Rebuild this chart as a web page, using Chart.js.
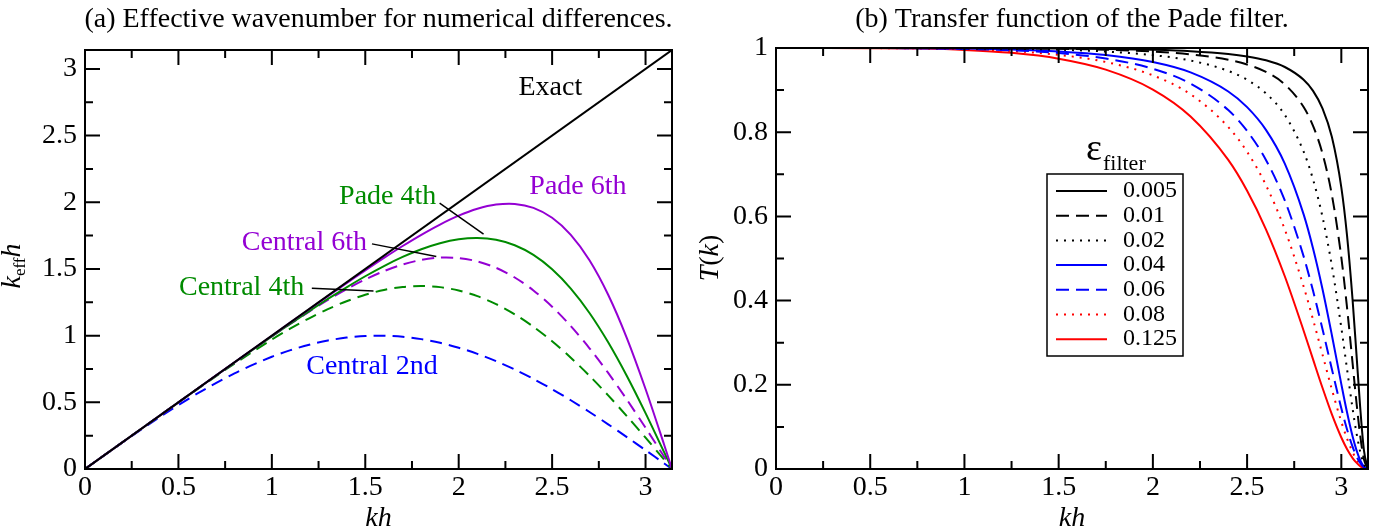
<!DOCTYPE html>
<html>
<head>
<meta charset="utf-8">
<script src="https://cdn.jsdelivr.net/npm/chart.js@4.4.1/dist/chart.umd.min.js"></script>
<style>
  html, body { margin: 0; padding: 0; background: #fff; }
  #wrap { position: relative; width: 1384px; height: 529px; }
  .pane { position: absolute; top: 0; width: 692px; height: 529px; }
</style>
</head>
<body>
<div id="wrap">
  <div class="pane" style="left:0"><canvas id="left" width="692" height="529"></canvas></div>
  <div class="pane" style="left:692px"><canvas id="right" width="692" height="529"></canvas></div>
</div>
<script>
// ------------------------------------------------------------
// (a) effective wavenumber, values at khA
// ------------------------------------------------------------
const khA = [0, 0.2, 0.4, 0.6, 0.8, 1, 1.1, 1.2, 1.3, 1.4, 1.5, 1.6, 1.7, 1.8, 1.9, 2, 2.1, 2.2, 2.3, 2.4, 2.5, 2.6, 2.7, 2.8, 2.9, 3, 3.1, 3.1416];
const central2nd = [0, 0.1987, 0.3894, 0.5646, 0.7174, 0.8415, 0.8912, 0.932, 0.9636, 0.9854, 0.9975, 0.9996, 0.9917, 0.9738, 0.9463, 0.9093, 0.8632, 0.8085, 0.7457, 0.6755, 0.5985, 0.5155, 0.4274, 0.335, 0.2392, 0.1411, 0.0416, 0];
const central4th = [0, 0.2, 0.3996, 0.5975, 0.7899, 0.9705, 1.0535, 1.1301, 1.1989, 1.258, 1.3065, 1.3425, 1.3649, 1.3722, 1.3637, 1.3385, 1.2962, 1.2366, 1.1599, 1.0667, 0.9578, 0.8346, 0.6987, 0.5519, 0.3964, 0.2347, 0.0693, 0];
const central6th = [0, 0.2, 0.3999, 0.5998, 0.7987, 0.9942, 1.089, 1.1806, 1.2678, 1.3485, 1.4213, 1.4837, 1.5333, 1.5677, 1.5847, 1.5817, 1.5568, 1.5086, 1.4359, 1.3386, 1.2167, 1.0716, 0.9053, 0.7204, 0.5203, 0.3092, 0.0914, 0];
const pade4th = [0, 0.2, 0.3999, 0.5995, 0.7981, 0.9938, 1.0897, 1.1835, 1.2749, 1.3623, 1.4452, 1.5216, 1.59, 1.6479, 1.6931, 1.7223, 1.7319, 1.7184, 1.6774, 1.605, 1.4976, 1.3529, 1.17, 0.9501, 0.6974, 0.4191, 0.1246, 0];
const pade6th = [0, 0.2, 0.4, 0.6, 0.7999, 0.9995, 1.0989, 1.1979, 1.2964, 1.3936, 1.4893, 1.5826, 1.6721, 1.7563, 1.8331, 1.8994, 1.9509, 1.9826, 1.9878, 1.9581, 1.8839, 1.756, 1.5656, 1.3068, 0.9818, 0.6, 0.1799, 0];
const exactKh = [0, 3.1416];
const exactKeff = [0, 3.1416];

// leader lines from the labels to their curves (kh, keff)
const leaderPade4 = [[1.898, 1.993], [2.133, 1.761]];
const leaderCentral6 = [[1.536, 1.688], [1.88, 1.593]];
const leaderCentral4 = [[1.214, 1.356], [1.544, 1.335]];

const ticksAx = [0, 0.5, 1, 1.5, 2, 2.5, 3];
const minorAx = [0.25, 0.75, 1.25, 1.75, 2.25, 2.75];
const ticksAy = [0, 0.5, 1, 1.5, 2, 2.5, 3];
const minorAy = [0.25, 0.75, 1.25, 1.75, 2.25, 2.75];

// ------------------------------------------------------------
// (b) transfer function of the Pade filter, read at khB
// ------------------------------------------------------------
const epsFilter = ["0.005", "0.01", "0.02", "0.04", "0.06", "0.08", "0.125"];
const khB = [0, 0.25, 0.5, 0.75, 1, 1.25, 1.5, 1.75, 2, 2.2, 2.4, 2.5, 2.6, 2.7, 2.8, 2.85, 2.9, 2.95, 3, 3.03, 3.06, 3.08, 3.1, 3.12, 3.1416];
const T0005 = [1, 1, 1, 0.9999, 0.9998, 0.9996, 0.999, 0.9979, 0.9957, 0.9924, 0.9858, 0.98, 0.9708, 0.9549, 0.9245, 0.8981, 0.8567, 0.7885, 0.6691, 0.5559, 0.4004, 0.2754, 0.1476, 0.0445, 0];
const T001 = [1, 1, 1, 0.9999, 0.9997, 0.9991, 0.998, 0.9958, 0.9915, 0.9849, 0.9721, 0.9608, 0.9432, 0.9136, 0.8597, 0.815, 0.7494, 0.6508, 0.5027, 0.385, 0.2503, 0.1597, 0.0797, 0.0228, 0];
const T002 = [1, 1, 1, 0.9998, 0.9993, 0.9982, 0.996, 0.9916, 0.9831, 0.9702, 0.9456, 0.9245, 0.8924, 0.841, 0.7538, 0.6877, 0.5992, 0.4823, 0.3357, 0.2384, 0.143, 0.0868, 0.0415, 0.0115, 0];
const T004 = [1, 1, 0.9999, 0.9996, 0.9986, 0.9964, 0.9919, 0.9833, 0.9666, 0.942, 0.8967, 0.8595, 0.8056, 0.7255, 0.6049, 0.524, 0.4277, 0.3178, 0.2017, 0.1353, 0.077, 0.0454, 0.0212, 0.0058, 0];
const T006 = [1, 1, 0.9999, 0.9994, 0.9979, 0.9946, 0.9879, 0.975, 0.9506, 0.9153, 0.8525, 0.8029, 0.7341, 0.6379, 0.505, 0.4232, 0.3325, 0.237, 0.1442, 0.0945, 0.0527, 0.0307, 0.0142, 0.0039, 0];
const T008 = [1, 1, 0.9998, 0.9991, 0.9972, 0.9927, 0.9838, 0.9668, 0.935, 0.89, 0.8123, 0.7533, 0.6742, 0.5691, 0.4334, 0.3549, 0.272, 0.1889, 0.1122, 0.0726, 0.0401, 0.0232, 0.0107, 0.0029, 0];
const T0125 = [1, 1, 0.9997, 0.9986, 0.9955, 0.9885, 0.9746, 0.9486, 0.9014, 0.8374, 0.7341, 0.6609, 0.5694, 0.4578, 0.3285, 0.2603, 0.1929, 0.1297, 0.0748, 0.0477, 0.026, 0.015, 0.0069, 0.0019, 0];

const ticksBx = [0, 0.5, 1, 1.5, 2, 2.5, 3];
const minorBx = [0.25, 0.75, 1.25, 1.75, 2.25, 2.75];
const ticksBy = [0, 0.2, 0.4, 0.6, 0.8, 1];
const minorBy = [0.1, 0.3, 0.5, 0.7, 0.9];

// ------------------------------------------------------------
// styles
// ------------------------------------------------------------
const BLACK = "#000000", BLUE = "#0000ff", RED = "#ff0000", GREEN = "#008b00", VIOLET = "#9400d3";
const SERIF = "'Liberation Serif', 'Times New Roman', serif";
const DASH = [12, 7], DOT = [2, 6];
const PI = 3.14159265;

// curve labels of panel (a): text, kh, keff, colour, alignment
const notesA = [
  ["Exact", 2.32, 2.858, BLACK, "left"],
  ["Pade 6th", 2.378, 2.115, VIOLET, "left"],
  ["Pade 4th", 1.88, 2.043, GREEN, "right"],
  ["Central 6th", 1.509, 1.698, VIOLET, "right"],
  ["Central 4th", 1.173, 1.358, GREEN, "right"],
  ["Central 2nd", 1.184, 0.767, BLUE, "left"],
];

const pts = (xs, ys) => xs.map((x, i) => ({ x, y: ys[i] }));
const pairPts = p => p.map(([x, y]) => ({ x, y }));

// smooth: "monotone" for the filter curves, bezier tension for the humped ones
function curve(data, color, dash, width, smooth) {
  const d = {
    data, borderColor: color, borderWidth: width || 2, borderDash: dash || [],
    showLine: true, pointRadius: 0, fill: false,
  };
  if (smooth === "monotone") d.cubicInterpolationMode = "monotone";
  else d.tension = smooth || 0;
  return d;
}

// axes with fixed box sizes so the plot frame lands where the figure has it
function axes(yMax, xTicks, yTicks, leftW) {
  const font = { family: SERIF, size: 28 };
  return {
    x: {
      type: "linear", min: 0, max: PI,
      afterBuildTicks: s => { s.ticks = xTicks.map(v => ({ value: v })); },
      afterFit: s => { s.height = 60; },
      grid: { display: false, drawTicks: false }, border: { display: false },
      ticks: { font, color: BLACK, padding: 2, maxRotation: 0, autoSkip: false, callback: v => String(v) },
    },
    y: {
      type: "linear", min: 0, max: yMax,
      afterBuildTicks: s => { s.ticks = yTicks.map(v => ({ value: v })); },
      afterFit: s => { s.width = leftW; },
      grid: { display: false, drawTicks: false }, border: { display: false },
      ticks: { font, color: BLACK, padding: 8, autoSkip: false, callback: v => String(v) },
    },
  };
}

// frame plus inward major/minor ticks on all four sides
function framePlugin(xMaj, xMin, yMaj, yMin) {
  return {
    id: "frame",
    afterDatasetsDraw(chart) {
      const { ctx, chartArea: a, scales: { x, y } } = chart;
      ctx.save();
      ctx.strokeStyle = BLACK;
      ctx.lineWidth = 2;
      ctx.setLineDash([]);
      ctx.strokeRect(a.left, a.top, a.right - a.left, a.bottom - a.top);
      ctx.beginPath();
      const xt = (vals, len) => vals.forEach(v => {
        const p = x.getPixelForValue(v);
        ctx.moveTo(p, a.bottom); ctx.lineTo(p, a.bottom - len);
        ctx.moveTo(p, a.top); ctx.lineTo(p, a.top + len);
      });
      const yt = (vals, len) => vals.forEach(v => {
        const p = y.getPixelForValue(v);
        ctx.moveTo(a.left, p); ctx.lineTo(a.left + len, p);
        ctx.moveTo(a.right, p); ctx.lineTo(a.right - len, p);
      });
      xt(xMaj, 15); xt(xMin, 8); yt(yMaj, 15); yt(yMin, 8);
      ctx.stroke();
      ctx.restore();
    },
  };
}

// rotated axis title made of pieces [text, font, baseline shift]
function rotatedTitle(ctx, baseX, cy, parts) {
  ctx.save();
  ctx.translate(baseX, cy);
  ctx.rotate(-Math.PI / 2);
  ctx.textAlign = "left";
  ctx.textBaseline = "alphabetic";
  let total = 0;
  parts.forEach(p => { ctx.font = p[1]; total += ctx.measureText(p[0]).width; });
  let pos = -total / 2;
  parts.forEach(p => { ctx.font = p[1]; ctx.fillText(p[0], pos, p[2]); pos += ctx.measureText(p[0]).width; });
  ctx.restore();
}

// ------------------------------------------------------------
// panel (a)
// ------------------------------------------------------------
const textA = {
  id: "textA",
  afterDraw(chart) {
    const { ctx, chartArea: a, scales: { x, y } } = chart;
    const cx = (a.left + a.right) / 2;
    ctx.save();
    ctx.fillStyle = BLACK;
    ctx.textAlign = "center";
    ctx.textBaseline = "middle";
    ctx.font = `28px ${SERIF}`;
    ctx.fillText("(a) Effective wavenumber for numerical differences.", cx, 20);
    ctx.textBaseline = "alphabetic";
    ctx.font = `italic 28px ${SERIF}`;
    ctx.fillText("kh", cx, 526);
    rotatedTitle(ctx, 20, 266, [
      ["k", `italic 28px ${SERIF}`, 0],
      ["eff", `17px ${SERIF}`, 5],
      ["h", `italic 28px ${SERIF}`, 0],
    ]);
    ctx.textBaseline = "middle";
    ctx.font = `28px ${SERIF}`;
    notesA.forEach(([t, kx, ky, c, al]) => {
      ctx.fillStyle = c;
      ctx.textAlign = al;
      ctx.fillText(t, x.getPixelForValue(kx), y.getPixelForValue(ky));
    });
    ctx.restore();
  },
};

new Chart(document.getElementById("left"), {
  type: "scatter",
  data: {
    datasets: [
      curve(pts(exactKh, exactKeff), BLACK),
      curve(pairPts(leaderPade4), BLACK, null, 1.5),
      curve(pairPts(leaderCentral6), BLACK, null, 1.5),
      curve(pairPts(leaderCentral4), BLACK, null, 1.5),
      curve(pts(khA, pade6th), VIOLET, null, 2, 0.3),
      curve(pts(khA, pade4th), GREEN, null, 2, 0.3),
      curve(pts(khA, central6th), VIOLET, DASH, 2, 0.3),
      curve(pts(khA, central4th), GREEN, DASH, 2, 0.3),
      curve(pts(khA, central2nd), BLUE, DASH, 2, 0.3),
    ],
  },
  options: {
    responsive: false, animation: false,
    layout: { padding: { top: 50, right: 20, left: 0, bottom: 0 } },
    plugins: { legend: { display: false }, tooltip: { enabled: false } },
    scales: axes(PI, ticksAx, ticksAy, 85),
  },
  plugins: [framePlugin(ticksAx, minorAx, ticksAy, minorAy), textA],
});

// ------------------------------------------------------------
// panel (b)
// ------------------------------------------------------------
const transfer = [T0005, T001, T002, T004, T006, T008, T0125];
const lineColor = [BLACK, BLACK, BLACK, BLUE, BLUE, RED, RED];
const lineDash = [[], [13, 7], DOT, [], [13, 7], DOT, []];

const textB = {
  id: "textB",
  afterDraw(chart) {
    const { ctx, chartArea: a } = chart;
    const cx = (a.left + a.right) / 2;
    ctx.save();
    ctx.fillStyle = BLACK;
    ctx.textAlign = "center";
    ctx.textBaseline = "middle";
    ctx.font = `28px ${SERIF}`;
    ctx.fillText("(b) Transfer function of the Pade filter.", cx, 20);
    ctx.textBaseline = "alphabetic";
    ctx.font = `italic 28px ${SERIF}`;
    ctx.fillText("kh", cx, 526);
    rotatedTitle(ctx, 26, 258, [
      ["T", `italic 28px ${SERIF}`, 0],
      ["(", `28px ${SERIF}`, 0],
      ["k", `italic 28px ${SERIF}`, 0],
      [")", `28px ${SERIF}`, 0],
    ]);

    // legend box with title
    const bx = 355, by = 174, bw = 136, bh = 182;
    ctx.fillStyle = "#fff";
    ctx.fillRect(bx, by, bw, bh);
    ctx.strokeStyle = BLACK;
    ctx.lineWidth = 1.5;
    ctx.strokeRect(bx, by, bw, bh);
    ctx.fillStyle = BLACK;
    ctx.textAlign = "left";
    ctx.font = `38px ${SERIF}`;
    ctx.fillText("\u03b5", 394, 160);
    const ew = ctx.measureText("\u03b5").width;
    ctx.font = `22px ${SERIF}`;
    ctx.fillText("filter", 395 + ew, 170);

    ctx.textBaseline = "middle";
    ctx.font = `24px ${SERIF}`;
    chart.data.datasets.forEach((d, i) => {
      const ry = 191 + i * 24.7;
      ctx.strokeStyle = d.borderColor;
      ctx.lineWidth = 2;
      ctx.setLineDash(d.borderDash);
      ctx.beginPath();
      ctx.moveTo(364, ry); ctx.lineTo(415, ry);
      ctx.stroke();
      ctx.fillStyle = BLACK;
      ctx.fillText(d.label, 431, ry);
    });
    ctx.restore();
  },
};

new Chart(document.getElementById("right"), {
  type: "scatter",
  data: {
    datasets: epsFilter.map((e, i) =>
      Object.assign(curve(pts(khB, transfer[i]), lineColor[i], lineDash[i], 2, "monotone"), { label: e })),
  },
  options: {
    responsive: false, animation: false,
    layout: { padding: { top: 48, right: 16, left: 0, bottom: 0 } },
    plugins: { legend: { display: false }, tooltip: { enabled: false } },
    scales: axes(1, ticksBx, ticksBy, 84),
  },
  plugins: [framePlugin(ticksBx, minorBx, ticksBy, minorBy), textB],
});
</script>
</body>
</html>
